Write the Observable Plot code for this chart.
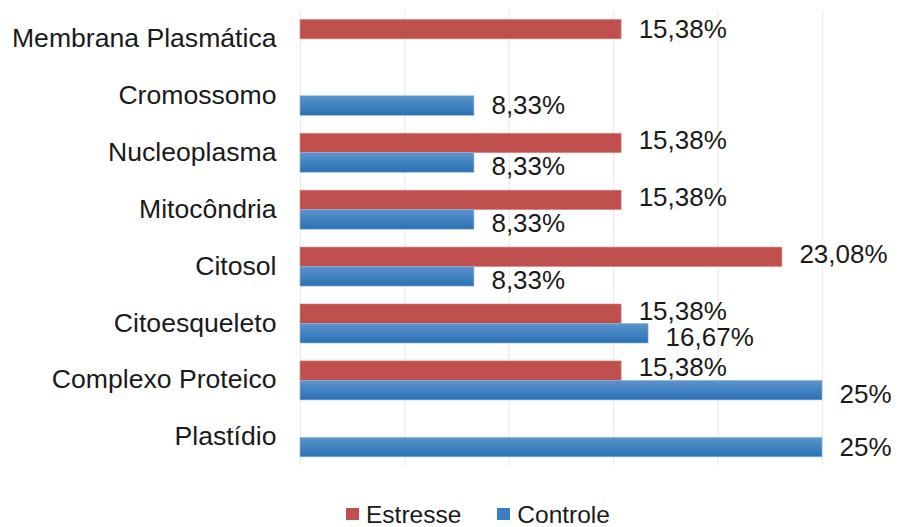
<!DOCTYPE html>
<html lang="pt">
<head>
<meta charset="utf-8">
<script src="https://cdn.jsdelivr.net/npm/d3@7"></script>
<script src="https://cdn.jsdelivr.net/npm/@observablehq/plot@0.6"></script>
<style>
  html, body { margin: 0; padding: 0; background: #fff; }
  #chart { width: 913px; font-family: "Liberation Sans", Arial, sans-serif; color: #1a1a1a; }
  #chart svg { display: block; }
  .legend { display: flex; align-items: center; height: 37px; padding-left: 346px; box-sizing: border-box;
            font-size: 24.5px; line-height: 25px; padding-top: 11px; }
  .legend .item { display: flex; align-items: center; margin-right: 36px; }
  .legend .sw { width: 13px; height: 12px; margin-right: 7px; display: inline-block; }
</style>
</head>
<body>
<div id="chart"></div>
<script>
// Localização subcelular das proteínas (% por condição)
const categories = [
  "Membrana Plasmática",
  "Cromossomo",
  "Nucleoplasma",
  "Mitocôndria",
  "Citosol",
  "Citoesqueleto",
  "Complexo Proteico",
  "Plastídio"
];
const series = ["Estresse", "Controle"];
const estresse = [15.38, null, 15.38, 15.38, 23.08, 15.38, 15.38, null];
const controle = [null, 8.33, 8.33, 8.33, 8.33, 16.67, 25, 25];
const xTicks = [0, 5, 10, 15, 20, 25];

const colors = {Estresse: "#C0504D", Controle: "#2E75B6"};

// one row per drawn bar; "paired" marks categories that carry both series
const rows = [];
categories.forEach((c, i) => {
  const paired = estresse[i] != null && controle[i] != null;
  if (estresse[i] != null) rows.push({category: c, series: "Estresse", value: estresse[i], paired});
  if (controle[i] != null) rows.push({category: c, series: "Controle", value: controle[i], paired});
});
const red = rows.filter(d => d.series === "Estresse");
const blue = rows.filter(d => d.series === "Controle");
const fmt = d => String(d.value).replace(".", ",") + "%";

const half = 19.5;   // half of the band: each series takes one half
const font = 26;

const gradient = () => {
  const ns = "http://www.w3.org/2000/svg";
  const defs = document.createElementNS(ns, "defs");
  defs.innerHTML = `<linearGradient id="controleGrad" x1="0" y1="0" x2="0" y2="1">
      <stop offset="0" stop-color="#5A94CE"/>
      <stop offset="1" stop-color="#2A71B3"/>
    </linearGradient>`;
  return defs;
};

const labelOpts = (extra) => ({
  x: "value", y: "category", text: fmt, dx: 17, textAnchor: "start",
  fontSize: font, fill: "#1a1a1a", ...extra
});

const plot = Plot.plot({
  width: 913,
  height: 490,
  marginLeft: 300,
  marginRight: 91,
  marginTop: 10.4,
  marginBottom: 24.2,
  style: {fontFamily: "'Liberation Sans', Arial, sans-serif", background: "#fff", color: "#1a1a1a"},
  x: {domain: [0, 25], axis: null},
  y: {domain: categories, paddingInner: 0.315, paddingOuter: 0.1575, round: false, label: null},
  marks: [
    gradient,
    Plot.ruleX(xTicks, {stroke: "#ececec", strokeWidth: 1.2}),
    Plot.axisY({tickSize: 0, tickPadding: 24, fontSize: 26.6, label: null, fill: "#1a1a1a", dy: -1}),
    Plot.barX(red, {x: "value", y: "category", fill: colors.Estresse, insetBottom: half,
                    stroke: "#d98a88", strokeWidth: 0.6}),
    Plot.barX(blue, {x: "value", y: "category", fill: "url(#controleGrad)", insetTop: half,
                     stroke: "#8db4dc", strokeWidth: 0.6}),
    // value labels; paired labels are nudged apart so they do not touch
    Plot.text(red.filter(d => !d.paired), labelOpts({dy: -half / 2})),
    Plot.text(red.filter(d => d.paired), labelOpts({dy: -half / 2 - 3})),
    Plot.text(blue.filter(d => !d.paired), labelOpts({dy: half / 2})),
    Plot.text(blue.filter(d => d.paired), labelOpts({dy: half / 2 + 4}))
  ]
});

const root = document.getElementById("chart");
root.appendChild(plot);

// legend below the plot
const legend = document.createElement("div");
legend.className = "legend";
series.forEach(s => {
  const item = document.createElement("span");
  item.className = "item";
  const sw = document.createElement("span");
  sw.className = "sw";
  sw.style.background = s === "Controle" ? "#3A7FC1" : colors[s];
  const label = document.createElement("span");
  label.textContent = s;
  item.appendChild(sw);
  item.appendChild(label);
  legend.appendChild(item);
});
root.appendChild(legend);
</script>
</body>
</html>
